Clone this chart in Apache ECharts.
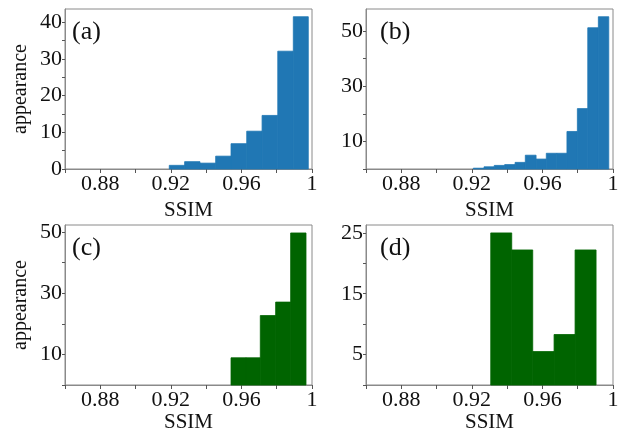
<!DOCTYPE html>
<html><head><meta charset="utf-8">
<script src="https://cdn.jsdelivr.net/npm/echarts@6/dist/echarts.min.js"></script>
<style>html,body{margin:0;padding:0;background:#fff}#c{width:623px;height:436px}</style>
</head><body><div id="c"></div>
<script>
// ---- data ----
const xTickValues = [0.86, 0.88, 0.90, 0.92, 0.94, 0.96, 0.98, 1.0];
const xLabelValues = [0.88, 0.92, 0.96, 1.0];

const edgesA = [0.9191, 0.9278, 0.9365, 0.9454, 0.9541, 0.9630, 0.9717, 0.9806, 0.9894, 0.9979];
const countsA = [1.0, 2.0, 1.6, 3.5, 6.9, 10.3, 14.6, 32.1, 41.5];
const yTicksA = [0, 5, 10, 15, 20, 25, 30, 35, 40];
const yLabelsA = [0, 10, 20, 30, 40];

const edgesB = [0.9208, 0.9269, 0.9327, 0.9386, 0.9445, 0.9503, 0.9564, 0.9622, 0.9681, 0.9739, 0.9798, 0.9857, 0.9917, 0.9976];
const countsB = [0.3, 0.8, 1.3, 1.6, 2.4, 5.0, 3.6, 5.7, 5.7, 13.6, 21.9, 51.2, 55.2];
const yTicksB = [0, 10, 20, 30, 40, 50];
const yLabelsB = [10, 30, 50];

const edgesC = [0.9541, 0.9626, 0.9707, 0.9794, 0.9879, 0.9966];
const countsC = [8.9, 8.9, 22.7, 27.1, 49.7];
const yTicksC = [0, 10, 20, 30, 40, 50];
const yLabelsC = [10, 30, 50];

const edgesD = [0.9307, 0.9426, 0.9545, 0.9666, 0.9785, 0.9904];
const countsD = [25.0, 22.2, 5.5, 8.3, 22.2];
const yTicksD = [0, 5, 10, 15, 20, 25];
const yLabelsD = [5, 15, 25];

const yMax = [43.6, 58, 52.3, 26.3];
const panelLabels = ['(a)', '(b)', '(c)', '(d)'];
const xName = 'SSIM';
const yName = 'appearance';

// ---- chart ----
const FONT = 'Liberation Serif';
const BLUE = '#2077b4', GREEN = '#006400';
const grids = [
  {left: 65, top: 9, width: 247, height: 160},
  {left: 366, top: 9, width: 247, height: 160},
  {left: 65, top: 225, width: 247, height: 160},
  {left: 366, top: 225, width: 247, height: 160}
];
const panels = [
  {edges: edgesA, counts: countsA, ticks: yTicksA, labels: yLabelsA, color: BLUE, yName: true, nameGap: 31},
  {edges: edgesB, counts: countsB, ticks: yTicksB, labels: yLabelsB, color: BLUE, yName: false, nameGap: 31},
  {edges: edgesC, counts: countsC, ticks: yTicksC, labels: yLabelsC, color: GREEN, yName: true, nameGap: 25},
  {edges: edgesD, counts: countsD, ticks: yTicksD, labels: yLabelsD, color: GREEN, yName: false, nameGap: 25}
];

function fmtX(v) {
  const r = Math.round(v * 100) / 100;
  return r === 1 ? '1' : r.toFixed(2);
}

const option = {
  animation: false,
  backgroundColor: '#fff',
  grid: grids.map(g => Object.assign({show: true, borderColor: '#8a8a8a', borderWidth: 1, backgroundColor: 'transparent'}, g)),
  xAxis: panels.map((p, i) => ({
    type: 'value', gridIndex: i, min: 0.86, max: 1.0,
    splitLine: {show: false},
    axisLine: {show: true, lineStyle: {color: '#8a8a8a', width: 1}},
    axisTick: {show: true, length: 4, lineStyle: {color: '#555'}, customValues: xTickValues},
    axisLabel: {customValues: xLabelValues, formatter: fmtX, fontFamily: FONT, fontSize: 22, color: '#111', margin: 4},
    name: xName, nameLocation: 'middle', nameGap: p.nameGap,
    nameTextStyle: {fontFamily: FONT, fontSize: 21, color: '#111'}
  })),
  yAxis: panels.map((p, i) => ({
    type: 'value', gridIndex: i, min: 0, max: yMax[i],
    splitLine: {show: false},
    axisLine: {show: true, lineStyle: {color: '#8a8a8a', width: 1}},
    axisTick: {show: true, length: 3, lineStyle: {color: '#555'}, customValues: p.ticks},
    axisLabel: {customValues: p.labels, fontFamily: FONT, fontSize: 22, color: '#111', margin: 3},
    name: p.yName ? yName : '', nameLocation: 'middle', nameGap: 34, nameRotate: 90,
    nameTextStyle: {fontFamily: FONT, fontSize: 20, color: '#111'}
  })),
  series: panels.map((p, i) => ({
    type: 'custom', xAxisIndex: i, yAxisIndex: i,
    data: p.counts.map((c, k) => [p.edges[k], p.edges[k + 1], c]),
    encode: {x: [0, 1], y: 2},
    renderItem: function (params, api) {
      const a = api.coord([api.value(0), api.value(2)]);
      const b = api.coord([api.value(1), 0]);
      return {type: 'rect', shape: {x: a[0], y: a[1], width: b[0] - a[0], height: b[1] - a[1]},
        style: {fill: p.color, stroke: p.color, lineWidth: 0.8}};
    }
  })),
  graphic: panels.map((p, i) => ({
    type: 'text', left: grids[i].left + 7 + (i % 2 === 1 ? 7 : 0), top: grids[i].top + 10,
    style: {text: panelLabels[i], fontFamily: FONT, fontSize: 26, fill: '#111'}
  }))
};

const chart = echarts.init(document.getElementById('c'), null, {renderer: 'canvas'});
chart.setOption(option);
</script>
</body></html>
